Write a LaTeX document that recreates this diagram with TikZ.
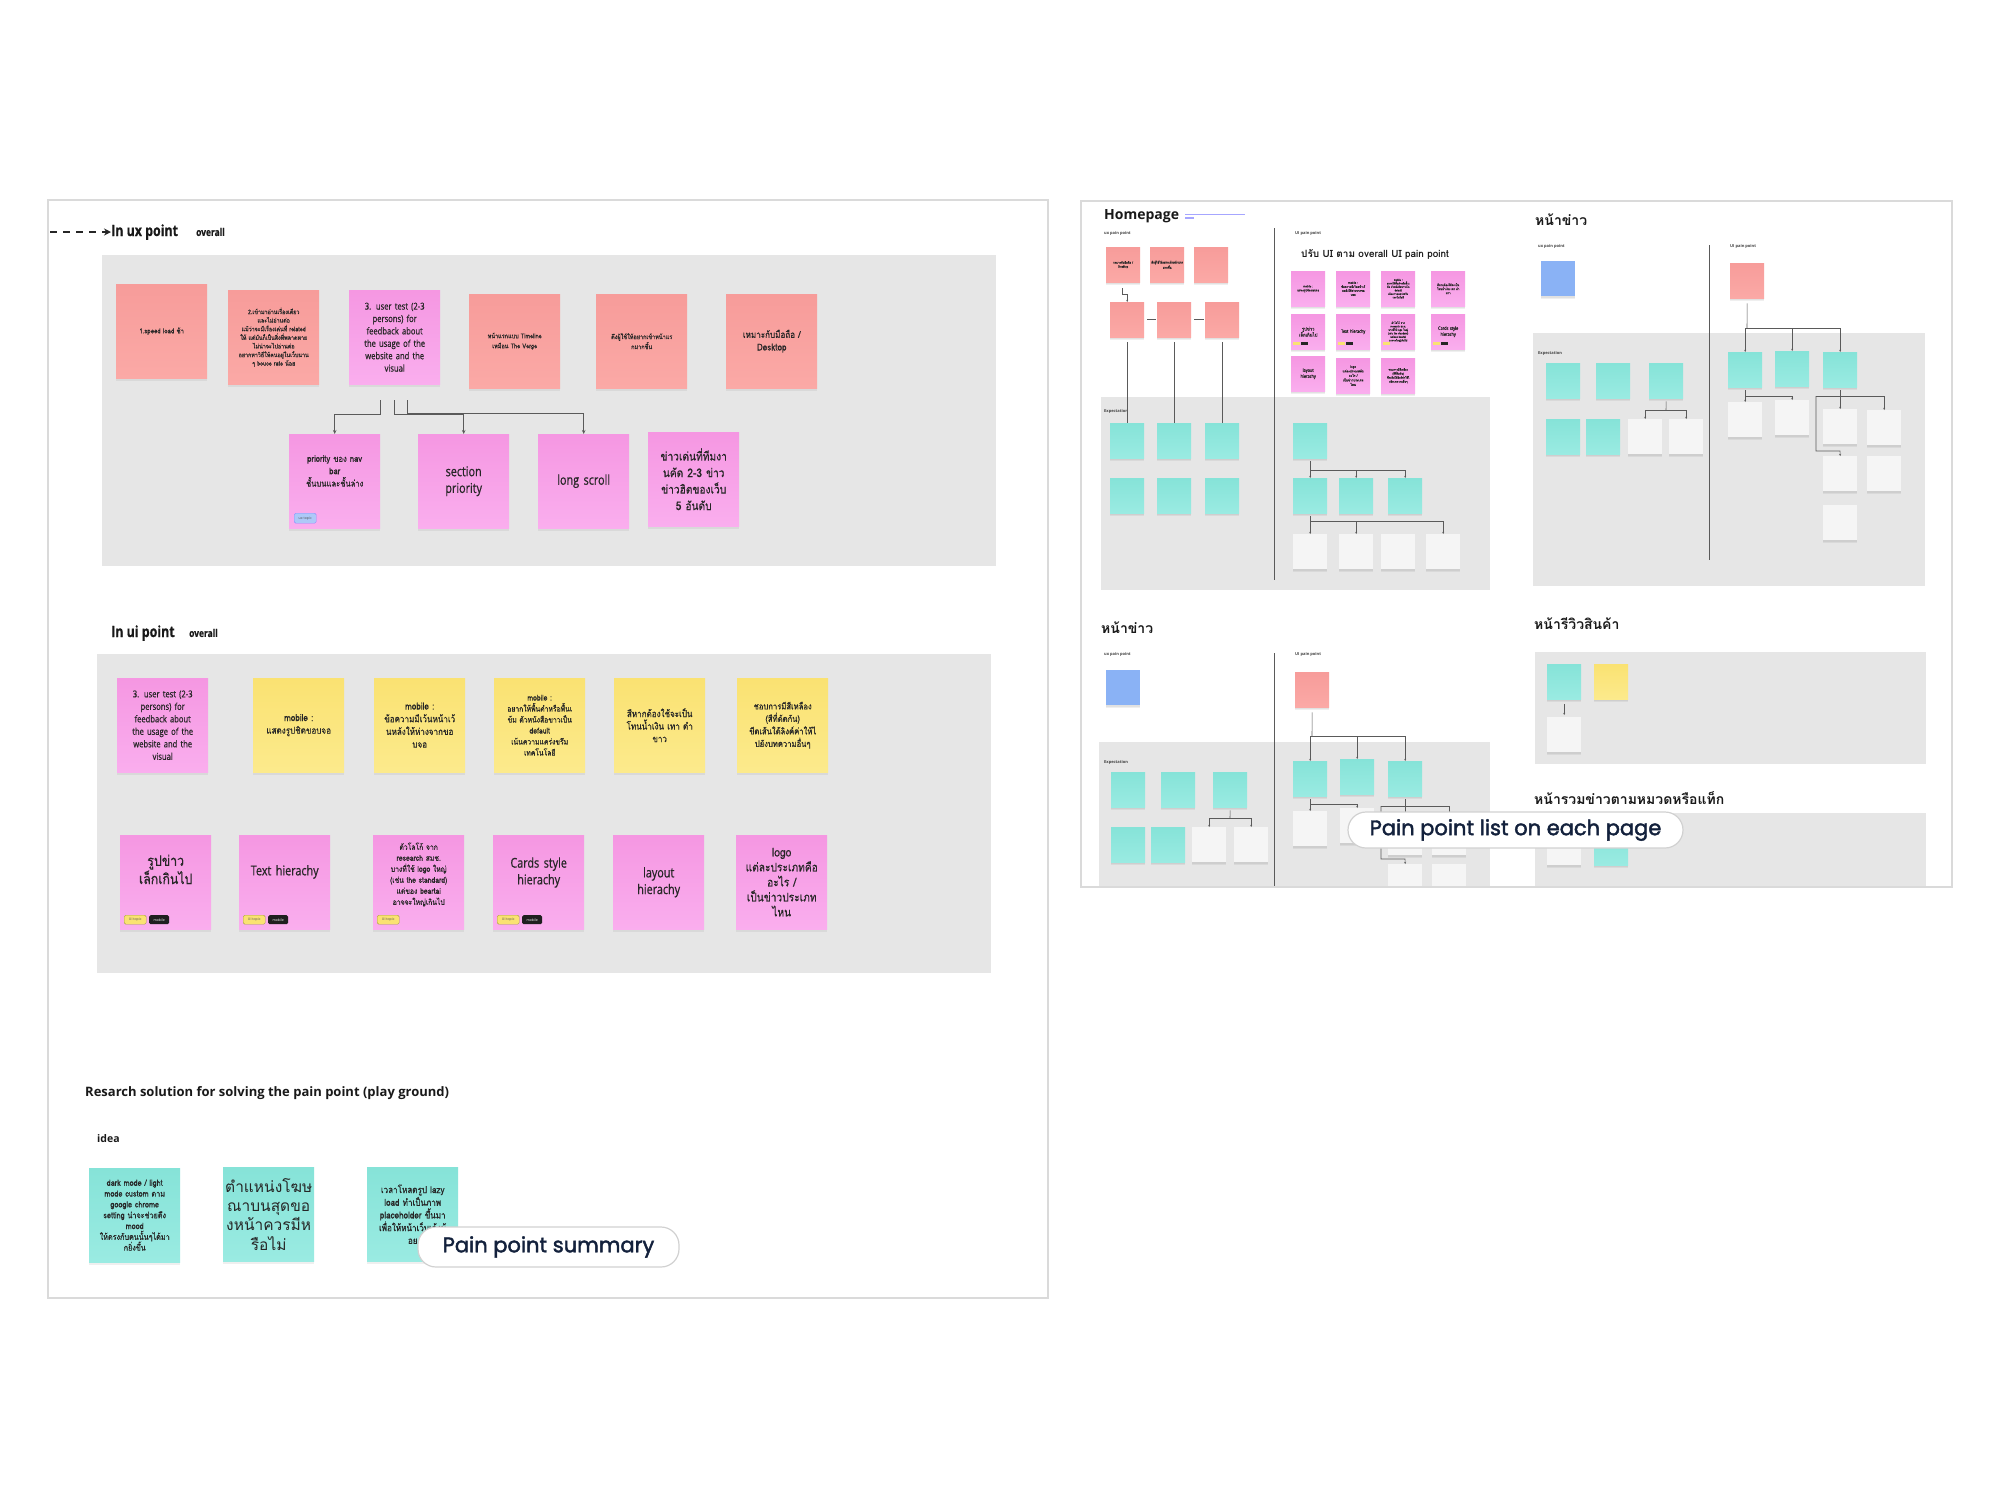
\documentclass[tikz,border=0pt]{standalone}
\usepackage{fontspec}
\setmainfont{Open Sans}
\newfontfamily\cond[FakeStretch=0.8,FakeBold=0.6]{Open Sans}
\newfontfamily\thai[Script=Thai]{Loma}
\newfontfamily\thaic[Script=Thai,FakeStretch=0.85,FakeBold=0.5]{Loma}
\newfontfamily\pop[FakeBold=2]{Poppins}
\usetikzlibrary{arrows.meta,shadows,calc}
\newcommand\fsz[2]{\fontsize{#1}{#2}\selectfont}
\definecolor{salT}{HTML}{F79C9A}
\definecolor{salB}{HTML}{FBA9A6}
\definecolor{pinkT}{HTML}{F597E2}
\definecolor{pinkB}{HTML}{FAAEEE}
\definecolor{yelT}{HTML}{FAE272}
\definecolor{yelB}{HTML}{FCEA8C}
\definecolor{tealT}{HTML}{86E3D8}
\definecolor{tealB}{HTML}{9AEBE2}
\definecolor{bluN}{HTML}{8AB2F5}
\definecolor{whN}{HTML}{F5F5F5}
\definecolor{boxG}{HTML}{E6E6E6}
\definecolor{frameG}{HTML}{DADADA}
\definecolor{navy}{HTML}{13213C}
\definecolor{txt}{HTML}{262626}
\definecolor{lineG}{HTML}{5A5A5A}
\tikzset{
  note/.style={anchor=north west, inner sep=1pt, align=center, text=txt,
    drop shadow={shadow xshift=0pt, shadow yshift=-3pt, opacity=0.12}},
  big/.style={note, minimum width=91pt, minimum height=94pt, text width=87pt},
  sm/.style={note, minimum width=34pt, minimum height=35pt, text width=32pt,
    drop shadow={shadow xshift=0pt, shadow yshift=-1.5pt, opacity=0.12}},
  sal/.style={top color=salT, bottom color=salB},
  pnk/.style={top color=pinkT, bottom color=pinkB},
  yel/.style={top color=yelT, bottom color=yelB},
  tea/.style={top color=tealT, bottom color=tealB},
  blu/.style={fill=bluN},
  wht/.style={fill=whN},
  frm/.style={draw=frameG, line width=1.5pt},
  conn/.style={draw=lineG, line width=0.9pt, -{Stealth[length=4pt,width=3.5pt]}},
  sconn/.style={draw=lineG, line width=0.6pt, -{Stealth[length=2.2pt,width=2pt]}},
  plain/.style={draw=lineG, line width=0.6pt},
  tinylab/.style={anchor=west, inner sep=0pt, font=\fsz{4}{5}\bfseries, text=black!75},
  head/.style={anchor=west, inner sep=0pt, text=black!90},
  pill/.style={draw=black!18, line width=1.2pt, fill=white, rounded corners=18pt, inner sep=0pt},
  uitag/.style={anchor=north west, fill=yelT, draw=yellow!60!black, line width=0.4pt, rounded corners=1.5pt,
    inner sep=0pt, minimum width=22pt, minimum height=9pt, font=\fsz{3.5}{4}, text=black!70},
  mobtag/.style={anchor=north west, fill=black!88, rounded corners=1.5pt, inner sep=0pt,
    minimum width=20pt, minimum height=9pt, font=\fsz{3.5}{4}, text=white},
  uxtag/.style={anchor=north west, fill=bluN!70, draw=blue!45, line width=0.4pt, rounded corners=1.5pt,
    inner sep=0pt, minimum width=22pt, minimum height=10pt, font=\fsz{3.5}{4}, text=black!70},
}
\begin{document}
\begin{tikzpicture}[x=1pt, y=-1pt]
\useasboundingbox (0,0) rectangle (2000,1500);
\fill[white] (0,0) rectangle (2000,1500);

%% ================= LEFT PANEL =================
\draw[frm] (48,200) rectangle (1048,1298);

\node[head, font=\cond\bfseries\fsz{15.5}{17}] (uxl) at (111,232) {In ux point};
\node[head, font=\cond\bfseries\fsz{10.5}{12}] (uxo) at (196,232) {overall};
\coordinate (dst) at (50,232);
\draw[line width=1.8pt, draw=black!85, dash pattern=on 7pt off 6pt, -{Stealth[length=7pt,width=7pt]}] (dst) -- (uxl.west);

\fill[boxG] (102,255) rectangle (996,566);

\node[big,sal,font=\thaic\fsz{7}{9}] (n1) at (116,284) {1.speed load ช้า};
\node[big,sal,font=\thaic\fsz{6.3}{8.6}] (n2) at (228,290) {2.เข้ามาอ่านเรื่องเดียว\\และไม่อ่านต่อ\\แม้ว่าจะมีเรื่องเด่นที่ related\\ให้ แต่มันก็เป็นสิ่งที่พลาดหาย\\ไม่น่าจะไปอ่านต่อ\\อยากหาวิธีให้คนอยู่ในเว็บนาน\\ๆ bouce rate น้อย};
\node[big,pnk,font=\cond\fsz{9.5}{12.4}] (n3) at (349,290) {3. user test (2-3\\persons) for\\feedback about\\the usage of the\\website and the\\visual};
\node[big,sal,font=\thaic\fsz{6.5}{10}] (n4) at (469,294) {หน้าแรกแบบ Timeline\\เหมือน The Verge};
\node[big,sal,font=\thaic\fsz{6.5}{10}] (n5) at (596,294) {ดึงผู้ใช้ให้อยากเข้าหน้าแร\\กมากขึ้น};
\node[big,sal,font=\thaic\fsz{9.5}{12.6}] (n6) at (726,294) {เหมาะกับมือถือ /\\Desktop};

\node[big,pnk,font=\thaic\fsz{9}{12.4}] (a1) at (289,434) {priority ของ nav\\bar\\ชั้นบนและชั้นล่าง\\[8pt]~};
\node[uxtag] (a1t) at (294,513) {ux topic};
\node[big,pnk,font=\cond\fsz{13.5}{16.7}] (a2) at (418,434) {section\\priority};
\node[big,pnk,font=\cond\fsz{13.5}{16.7}] (a3) at (538,434) {long scroll};
\node[big,pnk,font=\thaic\fsz{12}{16.5}] (a4) at (648,432) {ข่าวเด่นที่ทีมงา\\นคัด 2-3 ข่าว\\ข่าวฮิตของเว็บ\\5 อันดับ};

\coordinate (c1) at (380,400);
\coordinate (c2) at (394,400);
\coordinate (c3) at (407,400);
\draw[conn] (c1) -- ++(0,14) -| (a1.north);
\draw[conn] (c2) -- ++(0,14) -| (a2.north);
\draw[conn] (c3) -- ++(0,13) -| (a3.north);

\node[head, font=\cond\bfseries\fsz{15.5}{17}] (uil) at (111,633) {In ui point};
\node[head, font=\cond\bfseries\fsz{10.5}{12}] (uio) at (189,633) {overall};

\fill[boxG] (97,654) rectangle (991,973);

\node[big,pnk,font=\cond\fsz{9.5}{12.5}] (u1) at (117,678) {3. user test (2-3\\persons) for\\feedback about\\the usage of the\\website and the\\visual};
\node[big,yel,font=\thaic\fsz{9.5}{12.7}] (u2) at (253,678) {mobile :\\แสดงรูปชิดขอบจอ};
\node[big,yel,font=\thaic\fsz{9.5}{12.7}] (u3) at (374,678) {mobile :\\ข้อความมีเว้นหน้าเว้\\นหลังให้ห่างจากขอ\\บจอ};
\node[big,yel,font=\thaic\fsz{8}{11}] (u4) at (494,678) {mobile :\\อยากให้พื้นดำหรือพื้นเ\\ข้ม ตัวหนังสือขาวเป็น\\default\\เน้นความแคร่งขรึม\\เทคโนโลยี};
\node[big,yel,font=\thaic\fsz{9.5}{12.5}] (u5) at (614,678) {สีหากต้องใช้จะเป็น\\โทนน้ำเงิน เทา ดำ\\ขาว};
\node[big,yel,font=\thaic\fsz{9}{12.5}] (u6) at (737,678) {ชอบการมีสีเหลือง\\(สีที่ตัดกัน)\\ขีดเส้นใต้ลิงค์ค่าให้ไ\\ปยังบทความอื่นๆ};

\node[big,pnk,font=\thaic\fsz{14.5}{15.7}] (v1) at (120,835) {รูปข่าว\\เล็กเกินไป\\[10pt]~};
\node[uitag] (v1y) at (124,915) {UI topic};
\node[mobtag] (v1m) at (149,915) {mobile};
\node[big,pnk,font=\cond\fsz{13.5}{16}] (v2) at (239,835) {Text hierachy\\[8pt]~};
\node[uitag] (v2y) at (243,915) {UI topic};
\node[mobtag] (v2m) at (268,915) {mobile};
\node[big,pnk,font=\thaic\fsz{8}{11}] (v3) at (373,835) {ตัวโลโก้ จาก\\research สมช.\\บางที่ใช้ logo ใหญ่\\(เช่น the standard)\\แต่ของ beartai\\อาจจะใหญ่เกินไป\\[6pt]~};
\node[uitag] (v3y) at (377,915) {UI topic};
\node[big,pnk,font=\cond\fsz{13.5}{16.7}] (v4) at (493,835) {Cards style\\hierachy\\[6pt]~};
\node[uitag] (v4y) at (497,915) {UI topic};
\node[mobtag] (v4m) at (522,915) {mobile};
\node[big,pnk,font=\cond\fsz{13.5}{16.7}] (v5) at (613,835) {layout\\hierachy};
\node[big,pnk,font=\thaic\fsz{12}{15}] (v6) at (736,835) {logo\\แต่ละประเภทคือ\\อะไร /\\เป็นข่าวประเภท\\ไหน};

\node[head, font=\bfseries\fsz{13}{15}] (rs) at (85,1093) {Resarch solution for solving the pain point (play ground)};
\node[head, font=\bfseries\fsz{10.5}{12}] (idea) at (97,1139) {idea};

\node[big,tea,font=\thaic\fsz{8.5}{10.8}] (t1) at (89,1168) {dark mode / light\\mode custom ตาม\\google chrome\\setting น่าจะช่วยดึง\\mood\\ให้ตรงกับคนนั้นๆได้มา\\กยิ่งขึ้น};
\node[big,tea,font=\thai\fsz{15.5}{19.4}] (t2) at (223,1167) {ตำแหน่งโฆษ\\ณาบนสุดขอ\\งหน้าควรมีห\\รือไม่};
\node[big,tea,font=\thaic\fsz{9.5}{12.7}] (t3) at (367,1167) {เวลาโหลดรูป lazy\\load ทำเป็นภาพ\\placeholder ขึ้นมา\\เพื่อให้หน้าเว็บเด้งน้\\อย};

\node[pill, minimum width=261pt, minimum height=40pt, font=\pop\fsz{21}{23}, text=navy] (sum) at (548.5,1247) {Pain point summary};

%% ================= RIGHT PANEL =================
\begin{scope}
\clip (1081,201) rectangle (1952,887);
\fill[white] (1081,201) rectangle (1952,887);

% ---- Homepage ----
\node[head, font=\bfseries\fsz{14}{16}] (hp) at (1104,216) {Homepage};
\fill[blue!35] (1185,213.5) rectangle (1245,215);
\fill[blue!35] (1185,217) rectangle (1194,218.5);
\node[tinylab] (hux) at (1104,233) {ux pain point};
\node[tinylab] (hui) at (1295,233) {UI pain point};
\fill[boxG] (1101,397) rectangle (1490,590);
\coordinate (hdA) at (1274,228);
\coordinate (hdB) at (1274,580);
\draw[plain, line width=0.8pt] (hdA) -- (hdB);

\node[sm,sal,font=\thaic\fsz{3.2}{4}] (hs1) at (1106,247) {เหมาะกับมือถือ /\\Desktop};
\node[sm,sal,font=\thaic\fsz{3.2}{4}] (hs2) at (1150,247) {ดึงผู้ใช้ให้อยากเข้าหน้าแรก\\มากขึ้น};
\node[sm,sal] (hs3) at (1194,247) {};
\node[sm,sal] (hr1) at (1110,302) {};
\node[sm,sal] (hr2) at (1157,302) {};
\node[sm,sal] (hr3) at (1205,302) {};
\draw[sconn] (hs1.south) ++(-1,6) -- ++(0,6) -| (hr1.north);
\draw[plain, shorten <=3pt, shorten >=1pt] (hr1.east) -- (hr2.west);
\draw[plain, shorten <=3pt, shorten >=1pt] (hr2.east) -- (hr3.west);
\node[tinylab] (hexp) at (1104,411) {Expectation};
\node[sm,tea] (ht1) at (1110,423) {};
\node[sm,tea] (ht2) at (1157,423) {};
\node[sm,tea] (ht3) at (1205,423) {};
\node[sm,tea] (hb1) at (1110,478) {};
\node[sm,tea] (hb2) at (1157,478) {};
\node[sm,tea] (hb3) at (1205,478) {};
\draw[plain, shorten <=5pt] (hr1.south) -- (ht1.north);
\draw[plain, shorten <=5pt] (hr2.south) -- (ht2.north);
\draw[plain, shorten <=5pt] (hr3.south) -- (ht3.north);

\node[head, font=\thai\bfseries\fsz{10}{12}] (hpr) at (1301,254) {ปรับ UI ตาม overall UI pain point};
\node[sm,pnk,font=\thaic\fsz{3.2}{4}] (p11) at (1291,271) {mobile :\\แสดงรูปชิดขอบจอ};
\node[sm,pnk,font=\thaic\fsz{3.2}{4}] (p12) at (1336,271) {mobile :\\ข้อความมีเว้นหน้าเว้\\นหลังให้ห่างจากขอ\\บจอ};
\node[sm,pnk,font=\thaic\fsz{2.8}{3.5}] (p13) at (1381,271) {mobile :\\อยากให้พื้นดำหรือพื้นเ\\ข้ม ตัวหนังสือขาวเป็น\\default\\เน้นความแคร่งขรึม\\เทคโนโลยี};
\node[sm,pnk,font=\thaic\fsz{3.2}{4}] (p14) at (1431,271) {สีหากต้องใช้จะเป็น\\โทนน้ำเงิน เทา ดำ\\ขาว};
\node[sm,pnk,font=\thaic\fsz{5}{6}] (p21) at (1291,314) {รูปข่าว\\เล็กเกินไป};
\node[sm,pnk,font=\cond\fsz{4.8}{6}] (p22) at (1336,314) {Text hierachy};
\node[sm,pnk,font=\thaic\fsz{2.8}{3.5}] (p23) at (1381,314) {ตัวโลโก้ จาก\\research สมช.\\บางที่ใช้ logo ใหญ่\\(เช่น the standard)\\แต่ของ beartai\\อาจจะใหญ่เกินไป};
\node[sm,pnk,font=\cond\fsz{4.8}{6}] (p24) at (1431,314) {Cards style\\hierachy};
\node[sm,pnk,font=\cond\fsz{4.8}{6}] (p31) at (1291,356) {layout\\hierachy};
\node[sm,pnk,font=\thaic\fsz{3.5}{4.5}] (p32) at (1336,358) {logo\\แต่ละประเภทคือ\\อะไร /\\เป็นข่าวประเภท\\ไหน};
\node[sm,pnk,font=\thaic\fsz{3}{4}] (p33) at (1381,358) {ชอบการมีสีเหลือง\\(สีที่ตัดกัน)\\ขีดเส้นใต้ลิงค์ค่าให้ไ\\ปยังบทความอื่นๆ};
\foreach \px in {1291,1336,1431}{\fill[yelT] (\px+2,342) rectangle (\px+9,345); \fill[black!85] (\px+10,342) rectangle (\px+17,345);}
\fill[yelT] (1383,342) rectangle (1390,345);

\node[sm,tea] (hu) at (1293,423) {};
\node[sm,tea] (hu1) at (1293,478) {};
\node[sm,tea] (hu2) at (1339,478) {};
\node[sm,tea] (hu3) at (1388,478) {};
\coordinate (hj) at (1310,470);
\draw[sconn, shorten <=3pt] (hu.south) -- (hu1.north);
\draw[sconn] (hj) -| (hu2.north);
\draw[sconn] (hj) -| (hu3.north);
\node[sm,wht] (hw1) at (1293,534) {};
\node[sm,wht] (hw2) at (1339,534) {};
\node[sm,wht] (hw3) at (1381,534) {};
\node[sm,wht] (hw4) at (1426,534) {};
\coordinate (hk) at (1310,521);
\draw[sconn, shorten <=3pt] (hu1.south) -- (hw1.north);
\draw[sconn] (hk) -| (hw2.north);
\draw[sconn] (hk) -| (hw4.north);

% ---- news page (top right) ----
\node[head, font=\thai\bfseries\fsz{14}{16}] (ah) at (1535,220) {หน้าข่าว};
\node[tinylab] (aux) at (1538,246) {ux pain point};
\node[tinylab] (aui) at (1730,246) {UI pain point};
\fill[boxG] (1533,333) rectangle (1925,586);
\coordinate (adA) at (1709,245);
\coordinate (adB) at (1709,560);
\draw[plain, line width=0.8pt] (adA) -- (adB);
\node[sm,blu] (ab) at (1541,261) {};
\node[sm,sal] (as) at (1730,263) {};
\node[tinylab] (aexp) at (1538,353) {Expectation};
\node[sm,tea] (ae1) at (1546,363) {};
\node[sm,tea] (ae2) at (1596,363) {};
\node[sm,tea] (ae3) at (1649,363) {};
\node[sm,tea] (ae4) at (1546,419) {};
\node[sm,tea] (ae5) at (1586,419) {};
\node[sm,wht] (aw1) at (1628,419) {};
\node[sm,wht] (aw2) at (1669,419) {};
\coordinate (aj) at (1666,410);
\draw[plain, shorten <=3pt] (ae3.south) -- (aj);
\draw[sconn] (aj) -| (aw1.north);
\draw[sconn] (aj) -| (aw2.north);
\node[sm,tea] (au1) at (1728,352) {};
\node[sm,tea] (au2) at (1775,351) {};
\node[sm,tea] (au3) at (1823,352) {};
\coordinate (ak) at (1747,328);
\draw[plain, shorten <=5pt] (as.south) -- (ak);
\draw[sconn] (ak) -| (au1.north);
\draw[sconn] (ak) -| (au2.north);
\draw[sconn] (ak) -| (au3.north);
\node[sm,wht] (aw3) at (1728,402) {};
\node[sm,wht] (aw4) at (1775,400) {};
\node[sm,wht] (aw5) at (1823,409) {};
\node[sm,wht] (aw6) at (1867,410) {};
\node[sm,wht] (aw7) at (1823,456) {};
\node[sm,wht] (aw8) at (1867,456) {};
\node[sm,wht] (aw9) at (1823,505) {};
\coordinate (al) at (1745,396);
\draw[sconn, shorten <=3pt] (au1.south) -- (aw3.north);
\draw[sconn] (al) -| (aw4.north);
\coordinate (am) at (1840,396);
\coordinate (an) at (1816,396);
\coordinate (ao) at (1840,451);
\draw[sconn, shorten <=3pt] (au3.south) -- (aw5.north);
\draw[sconn] (am) -| (aw6.north);
\draw[plain] (am) -- (an);
\draw[sconn] (an) |- (ao) -- (aw7.north);

% ---- news page (bottom left) ----
\node[head, font=\thai\bfseries\fsz{14}{16}] (bh) at (1101,628) {หน้าข่าว};
\node[tinylab] (bux) at (1104,654) {ux pain point};
\node[tinylab] (bui) at (1295,654) {UI pain point};
\fill[boxG] (1099,742) rectangle (1490,890);
\coordinate (bdA) at (1274,653);
\coordinate (bdB) at (1274,890);
\draw[plain, line width=0.8pt] (bdA) -- (bdB);
\node[sm,blu] (bb) at (1106,670) {};
\node[sm,sal] (bs) at (1295,672) {};
\node[tinylab] (bexp) at (1104,762) {Expectation};
\node[sm,tea] (be1) at (1111,772) {};
\node[sm,tea] (be2) at (1161,772) {};
\node[sm,tea] (be3) at (1213,772) {};
\node[sm,tea] (be4) at (1111,827) {};
\node[sm,tea] (be5) at (1151,827) {};
\node[sm,wht] (bw1) at (1192,827) {};
\node[sm,wht] (bw2) at (1234,827) {};
\coordinate (bj) at (1230,818);
\draw[plain, shorten <=3pt] (be3.south) -- (bj);
\draw[sconn] (bj) -| (bw1.north);
\draw[sconn] (bj) -| (bw2.north);
\node[sm,tea] (bu1) at (1293,761) {};
\node[sm,tea] (bu2) at (1340,759) {};
\node[sm,tea] (bu3) at (1388,761) {};
\coordinate (bk) at (1312,736);
\draw[plain, shorten <=5pt] (bs.south) -- (bk);
\draw[sconn] (bk) -| (bu1.north);
\draw[sconn] (bk) -| (bu2.north);
\draw[sconn] (bk) -| (bu3.north);
\node[sm,wht] (bw3) at (1293,811) {};
\node[sm,wht] (bw4) at (1340,808) {};
\node[sm,wht] (bw5) at (1388,820) {};
\node[sm,wht] (bw6) at (1432,820) {};
\node[sm,wht] (bw7) at (1388,864) {};
\node[sm,wht] (bw8) at (1432,864) {};
\coordinate (bl) at (1310,804);
\draw[sconn, shorten <=3pt] (bu1.south) -- (bw3.north);
\draw[sconn] (bl) -| (bw4.north);
\coordinate (bm) at (1405,806);
\coordinate (bn) at (1381,806);
\coordinate (bo) at (1405,859);
\draw[sconn, shorten <=3pt] (bu3.south) -- (bw5.north);
\draw[sconn] (bm) -| (bw6.north);
\draw[plain] (bm) -- (bn);
\draw[sconn] (bn) |- (bo) -- (bw7.north);

% ---- product review page ----
\node[head, font=\thai\bfseries\fsz{14}{16}] (rh) at (1534,624) {หน้ารีวิวสินค้า};
\fill[boxG] (1535,652) rectangle (1926,764);
\node[sm,tea] (rt) at (1547,664) {};
\node[sm,yel] (ry) at (1594,664) {};
\node[sm,wht] (rw) at (1547,717) {};
\draw[sconn, shorten <=5pt, shorten >=2pt] (rt.south) -- (rw.north);

% ---- category page ----
\node[head, font=\thai\bfseries\fsz{14}{16}] (ch) at (1534,798) {หน้ารวมข่าวตามหมวดหรือแท็ก};
\fill[boxG] (1535,813) rectangle (1926,890);
\node[sm,wht] (cw) at (1547,830) {};
\node[sm,tea] (ct) at (1594,830) {};
\end{scope}
\draw[frm] (1081,201) rectangle (1952,887);

\node[pill, minimum width=335pt, minimum height=36pt, font=\pop\fsz{21}{23}, text=navy] (list) at (1515.5,830) {Pain point list on each page};
\end{tikzpicture}
\end{document}
